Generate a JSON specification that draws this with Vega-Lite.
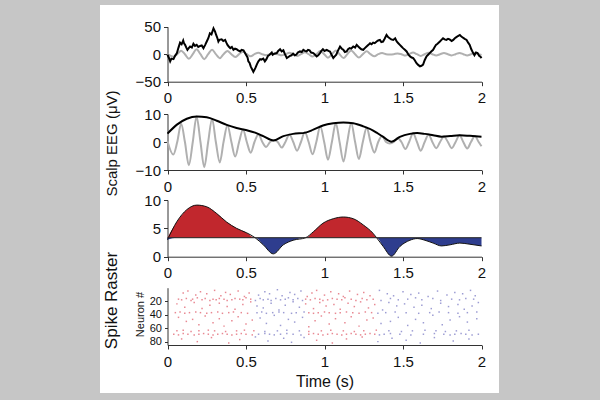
{
"$schema": "https://vega.github.io/schema/vega-lite/v6.json",
"width": 399, "height": 388,
"autosize": {"type": "none"},
"padding": {"left": 100, "top": 5, "right": 101, "bottom": 7},
"background": "#c6c6c6",
"config": {
 "font": "Liberation Sans",
 "view": {"fill": "white", "stroke": null},
 "axis": {"grid": false, "domainColor": "#333333", "tickColor": "#333333", "labelColor": "#111111", "titleColor": "#111111", "labelFont": "Liberation Sans", "titleFont": "Liberation Sans", "labelFontSize": 15, "tickSize": 4, "titleFontWeight": "normal", "labelFlush": false, "labelOverlap": false},
 "axisX": {"labelPadding": 5},
 "axisY": {"labelPadding": 3}
},
"datasets": {
 "raw": [{"t":0,"v":-1},{"t":0.008,"v":-6},{"t":0.017,"v":-13},{"t":0.025,"v":-8},{"t":0.038,"v":-9},{"t":0.048,"v":-3},{"t":0.06,"v":2},{"t":0.07,"v":12},{"t":0.08,"v":21},{"t":0.09,"v":18},{"t":0.1,"v":25},{"t":0.105,"v":20},{"t":0.112,"v":17},{"t":0.12,"v":12},{"t":0.127,"v":8},{"t":0.135,"v":11},{"t":0.144,"v":14},{"t":0.155,"v":12},{"t":0.165,"v":19},{"t":0.175,"v":15},{"t":0.186,"v":17},{"t":0.196,"v":13},{"t":0.208,"v":15},{"t":0.218,"v":16},{"t":0.229,"v":11},{"t":0.24,"v":17},{"t":0.25,"v":23},{"t":0.26,"v":29},{"t":0.27,"v":38},{"t":0.28,"v":36},{"t":0.293,"v":47},{"t":0.303,"v":41},{"t":0.31,"v":35},{"t":0.318,"v":29},{"t":0.324,"v":23},{"t":0.33,"v":26},{"t":0.345,"v":27},{"t":0.355,"v":24},{"t":0.367,"v":26},{"t":0.375,"v":21},{"t":0.382,"v":17},{"t":0.39,"v":14},{"t":0.4,"v":11},{"t":0.41,"v":13},{"t":0.42,"v":8},{"t":0.43,"v":10},{"t":0.44,"v":9},{"t":0.45,"v":7},{"t":0.463,"v":5},{"t":0.472,"v":8},{"t":0.484,"v":7},{"t":0.492,"v":3},{"t":0.5,"v":-1},{"t":0.51,"v":-6},{"t":0.515,"v":-13},{"t":0.523,"v":-16},{"t":0.53,"v":-22},{"t":0.538,"v":-27},{"t":0.547,"v":-32},{"t":0.553,"v":-29},{"t":0.56,"v":-25},{"t":0.57,"v":-18},{"t":0.579,"v":-13},{"t":0.59,"v":-9},{"t":0.598,"v":-10},{"t":0.61,"v":-8},{"t":0.62,"v":-13},{"t":0.63,"v":-9},{"t":0.64,"v":-3},{"t":0.65,"v":-1},{"t":0.664,"v":3},{"t":0.67,"v":-1},{"t":0.68,"v":1},{"t":0.696,"v":2},{"t":0.705,"v":6},{"t":0.717,"v":9},{"t":0.727,"v":5},{"t":0.738,"v":7},{"t":0.748,"v":0},{"t":0.76,"v":-7},{"t":0.77,"v":-5},{"t":0.78,"v":-3},{"t":0.79,"v":-2},{"t":0.8,"v":1},{"t":0.81,"v":-2},{"t":0.82,"v":-1},{"t":0.83,"v":3},{"t":0.844,"v":5},{"t":0.855,"v":4},{"t":0.865,"v":8},{"t":0.875,"v":6},{"t":0.886,"v":5},{"t":0.895,"v":8},{"t":0.905,"v":7},{"t":0.915,"v":3},{"t":0.929,"v":2},{"t":0.94,"v":-1},{"t":0.95,"v":-4},{"t":0.96,"v":-2},{"t":0.971,"v":2},{"t":0.98,"v":6},{"t":0.99,"v":9},{"t":1,"v":6},{"t":1.014,"v":8},{"t":1.025,"v":6},{"t":1.035,"v":5},{"t":1.045,"v":-1},{"t":1.056,"v":-7},{"t":1.065,"v":-4},{"t":1.075,"v":-1},{"t":1.085,"v":6},{"t":1.099,"v":14},{"t":1.11,"v":10},{"t":1.12,"v":8},{"t":1.13,"v":4},{"t":1.141,"v":5},{"t":1.15,"v":9},{"t":1.16,"v":11},{"t":1.17,"v":10},{"t":1.183,"v":14},{"t":1.195,"v":12},{"t":1.205,"v":17},{"t":1.215,"v":14},{"t":1.226,"v":11},{"t":1.235,"v":9},{"t":1.247,"v":8},{"t":1.257,"v":11},{"t":1.268,"v":14},{"t":1.28,"v":17},{"t":1.29,"v":20},{"t":1.3,"v":18},{"t":1.31,"v":21},{"t":1.32,"v":20},{"t":1.332,"v":23},{"t":1.342,"v":25},{"t":1.353,"v":26},{"t":1.362,"v":22},{"t":1.373,"v":23},{"t":1.383,"v":28},{"t":1.395,"v":35},{"t":1.405,"v":31},{"t":1.415,"v":29},{"t":1.425,"v":27},{"t":1.438,"v":26},{"t":1.45,"v":29},{"t":1.46,"v":23},{"t":1.47,"v":20},{"t":1.48,"v":17},{"t":1.49,"v":14},{"t":1.5,"v":11},{"t":1.512,"v":8},{"t":1.523,"v":5},{"t":1.535,"v":-1},{"t":1.545,"v":-4},{"t":1.555,"v":-6},{"t":1.565,"v":-7},{"t":1.575,"v":-11},{"t":1.585,"v":-16},{"t":1.595,"v":-19},{"t":1.608,"v":-22},{"t":1.618,"v":-21},{"t":1.628,"v":-19},{"t":1.638,"v":-11},{"t":1.65,"v":-4},{"t":1.66,"v":-1},{"t":1.67,"v":2},{"t":1.68,"v":5},{"t":1.692,"v":8},{"t":1.7,"v":12},{"t":1.71,"v":17},{"t":1.72,"v":19},{"t":1.735,"v":23},{"t":1.745,"v":26},{"t":1.755,"v":29},{"t":1.765,"v":27},{"t":1.777,"v":26},{"t":1.787,"v":28},{"t":1.797,"v":27},{"t":1.81,"v":24},{"t":1.82,"v":26},{"t":1.83,"v":29},{"t":1.84,"v":31},{"t":1.85,"v":33},{"t":1.862,"v":35},{"t":1.872,"v":32},{"t":1.882,"v":30},{"t":1.893,"v":28},{"t":1.905,"v":26},{"t":1.915,"v":21},{"t":1.925,"v":17},{"t":1.935,"v":9},{"t":1.947,"v":2},{"t":1.955,"v":-2},{"t":1.965,"v":3},{"t":1.975,"v":2},{"t":1.985,"v":-3},{"t":1.995,"v":-5},{"t":2,"v":-7}],
 "filt": [{"t":0,"v":0.3},{"t":0.037,"v":-4.5},{"t":0.062,"v":0},{"t":0.087,"v":6.5},{"t":0.111,"v":0},{"t":0.136,"v":-8.3},{"t":0.161,"v":0},{"t":0.185,"v":9.1},{"t":0.21,"v":0},{"t":0.234,"v":-9},{"t":0.259,"v":0},{"t":0.284,"v":8.3},{"t":0.308,"v":0},{"t":0.333,"v":-7.3},{"t":0.357,"v":0},{"t":0.382,"v":6},{"t":0.407,"v":0},{"t":0.431,"v":-5.2},{"t":0.456,"v":0},{"t":0.481,"v":4.5},{"t":0.505,"v":0},{"t":0.53,"v":-3.8},{"t":0.554,"v":0},{"t":0.579,"v":2.8},{"t":0.604,"v":0},{"t":0.628,"v":-1.8},{"t":0.653,"v":0},{"t":0.678,"v":0.6},{"t":0.702,"v":0},{"t":0.727,"v":-2},{"t":0.751,"v":0},{"t":0.776,"v":2.7},{"t":0.801,"v":0},{"t":0.825,"v":-3.1},{"t":0.85,"v":0},{"t":0.875,"v":3.6},{"t":0.899,"v":0},{"t":0.924,"v":-4.4},{"t":0.948,"v":0},{"t":0.973,"v":5.6},{"t":0.998,"v":0},{"t":1.022,"v":-6.3},{"t":1.047,"v":0},{"t":1.072,"v":6.8},{"t":1.096,"v":0},{"t":1.121,"v":-7},{"t":1.145,"v":0},{"t":1.17,"v":6.8},{"t":1.195,"v":0},{"t":1.219,"v":-6.1},{"t":1.244,"v":0},{"t":1.269,"v":5.2},{"t":1.293,"v":0},{"t":1.318,"v":-3.8},{"t":1.342,"v":0},{"t":1.367,"v":2.1},{"t":1.392,"v":0},{"t":1.416,"v":-0.5},{"t":1.441,"v":0},{"t":1.466,"v":1.4},{"t":1.49,"v":0},{"t":1.515,"v":-2.5},{"t":1.539,"v":0},{"t":1.564,"v":3.1},{"t":1.589,"v":0},{"t":1.613,"v":-3.1},{"t":1.638,"v":0},{"t":1.663,"v":2.7},{"t":1.687,"v":0},{"t":1.712,"v":-2.2},{"t":1.736,"v":0},{"t":1.761,"v":2},{"t":1.786,"v":0},{"t":1.81,"v":-2.2},{"t":1.835,"v":0},{"t":1.86,"v":2.4},{"t":1.884,"v":0},{"t":1.909,"v":-2.3},{"t":1.933,"v":0},{"t":1.958,"v":2.1},{"t":1.982,"v":0},{"t":2,"v":-1.5}],
 "env": [{"t":0,"v":3.0},{"t":0.06,"v":6.2},{"t":0.123,"v":8.3},{"t":0.187,"v":9.1},{"t":0.25,"v":8.8},{"t":0.314,"v":7.6},{"t":0.377,"v":6.1},{"t":0.44,"v":5.0},{"t":0.505,"v":4.2},{"t":0.558,"v":3.35},{"t":0.61,"v":2.1},{"t":0.674,"v":0.5},{"t":0.738,"v":2.1},{"t":0.8,"v":2.9},{"t":0.88,"v":3.35},{"t":0.929,"v":4.4},{"t":0.99,"v":5.9},{"t":1.056,"v":6.7},{"t":1.12,"v":7.0},{"t":1.183,"v":6.7},{"t":1.247,"v":5.6},{"t":1.31,"v":4.1},{"t":1.332,"v":3.35},{"t":1.374,"v":1.8},{"t":1.427,"v":0.1},{"t":1.48,"v":1.8},{"t":1.544,"v":2.9},{"t":1.59,"v":3.2},{"t":1.64,"v":2.9},{"t":1.692,"v":2.4},{"t":1.745,"v":1.9},{"t":1.8,"v":2.1},{"t":1.862,"v":2.4},{"t":1.926,"v":2.2},{"t":2,"v":1.9}],
 "spikes": [
{"t":0.07,"n":17},{"t":0.09,"n":18},{"t":0.12,"n":16},{"t":0.15,"n":19},{"t":0.16,"n":17},{"t":0.19,"n":15},{"t":0.22,"n":18},{"t":0.24,"n":16},{"t":0.27,"n":19},{"t":0.29,"n":17},{"t":0.31,"n":18},{"t":0.33,"n":16},{"t":0.36,"n":17},{"t":0.38,"n":19},{"t":0.41,"n":18},{"t":0.43,"n":16},{"t":0.46,"n":17},{"t":0.48,"n":18},{"t":0.5,"n":15},{"t":0.53,"n":17},{"t":0.56,"n":19},{"t":0.59,"n":16},{"t":0.61,"n":18},{"t":0.64,"n":17},{"t":0.66,"n":19},{"t":0.69,"n":16},{"t":0.72,"n":18},{"t":0.75,"n":17},{"t":0.77,"n":15},{"t":0.8,"n":18},{"t":0.83,"n":16},{"t":0.86,"n":19},{"t":0.88,"n":17},{"t":0.91,"n":18},{"t":0.94,"n":16},{"t":0.97,"n":17},{"t":0.99,"n":19},{"t":1.02,"n":18},{"t":1.05,"n":16},{"t":1.08,"n":17},{"t":1.11,"n":18},{"t":1.13,"n":15},{"t":1.17,"n":17},{"t":1.2,"n":19},{"t":1.24,"n":16},{"t":1.27,"n":18},{"t":1.31,"n":17},{"t":1.36,"n":19},{"t":1.42,"n":16},{"t":1.47,"n":18},{"t":1.53,"n":17},{"t":1.58,"n":15},{"t":1.62,"n":18},{"t":1.69,"n":16},{"t":1.74,"n":19},{"t":1.81,"n":17},{"t":1.86,"n":18},{"t":1.9,"n":16},{"t":1.95,"n":17},
{"t":0.05,"n":37},{"t":0.08,"n":36},{"t":0.11,"n":38},{"t":0.14,"n":37},{"t":0.18,"n":36},{"t":0.21,"n":37},{"t":0.25,"n":38},{"t":0.28,"n":37},{"t":0.32,"n":36},{"t":0.35,"n":38},{"t":0.39,"n":37},{"t":0.42,"n":36},{"t":0.47,"n":37},{"t":0.51,"n":38},{"t":0.57,"n":37},{"t":0.6,"n":36},{"t":0.63,"n":38},{"t":0.67,"n":37},{"t":0.71,"n":36},{"t":0.74,"n":37},{"t":0.79,"n":38},{"t":0.82,"n":37},{"t":0.87,"n":36},{"t":0.9,"n":37},{"t":0.93,"n":38},{"t":0.96,"n":37},{"t":1.0,"n":36},{"t":1.03,"n":37},{"t":1.07,"n":38},{"t":1.1,"n":37},{"t":1.14,"n":36},{"t":1.18,"n":37},{"t":1.22,"n":38},{"t":1.26,"n":36},{"t":1.3,"n":37},{"t":1.34,"n":38},{"t":1.39,"n":37},{"t":1.45,"n":36},{"t":1.52,"n":37},{"t":1.6,"n":38},{"t":1.67,"n":37},{"t":1.73,"n":36},{"t":1.79,"n":37},{"t":1.85,"n":38},{"t":1.91,"n":37},{"t":1.97,"n":36},
{"t":0.06,"n":64},{"t":0.1,"n":63},{"t":0.15,"n":65},{"t":0.2,"n":64},{"t":0.26,"n":63},{"t":0.3,"n":64},{"t":0.37,"n":65},{"t":0.44,"n":64},{"t":0.49,"n":63},{"t":0.55,"n":64},{"t":0.62,"n":65},{"t":0.7,"n":64},{"t":0.76,"n":63},{"t":0.84,"n":64},{"t":0.9,"n":65},{"t":0.98,"n":64},{"t":1.04,"n":63},{"t":1.12,"n":64},{"t":1.19,"n":65},{"t":1.25,"n":64},{"t":1.33,"n":63},{"t":1.41,"n":64},{"t":1.49,"n":65},{"t":1.56,"n":64},{"t":1.64,"n":63},{"t":1.71,"n":64},{"t":1.77,"n":65},{"t":1.84,"n":64},{"t":1.92,"n":63},
{"t":0.04,"n":69},{"t":0.07,"n":70},{"t":0.1,"n":68},{"t":0.13,"n":69},{"t":0.17,"n":70},{"t":0.2,"n":69},{"t":0.23,"n":68},{"t":0.26,"n":69},{"t":0.29,"n":70},{"t":0.32,"n":69},{"t":0.35,"n":68},{"t":0.38,"n":69},{"t":0.41,"n":70},{"t":0.44,"n":69},{"t":0.47,"n":68},{"t":0.5,"n":69},{"t":0.54,"n":70},{"t":0.58,"n":69},{"t":0.62,"n":68},{"t":0.65,"n":69},{"t":0.68,"n":70},{"t":0.72,"n":69},{"t":0.76,"n":68},{"t":0.8,"n":69},{"t":0.85,"n":70},{"t":0.9,"n":69},{"t":0.93,"n":68},{"t":0.96,"n":69},{"t":0.99,"n":70},{"t":1.02,"n":69},{"t":1.05,"n":68},{"t":1.08,"n":69},{"t":1.11,"n":70},{"t":1.14,"n":69},{"t":1.17,"n":68},{"t":1.2,"n":69},{"t":1.23,"n":70},{"t":1.26,"n":69},{"t":1.29,"n":68},{"t":1.32,"n":69},{"t":1.35,"n":70},{"t":1.38,"n":69},{"t":1.42,"n":68},{"t":1.48,"n":69},{"t":1.55,"n":70},{"t":1.63,"n":69},{"t":1.7,"n":68},{"t":1.76,"n":69},{"t":1.8,"n":70},{"t":1.83,"n":69},{"t":1.87,"n":68},{"t":1.9,"n":69},{"t":1.94,"n":70},{"t":1.98,"n":69},
{"t":0.1,"n":8},{"t":0.13,"n":5},{"t":0.18,"n":11},{"t":0.21,"n":6},{"t":0.25,"n":9},{"t":0.3,"n":4},{"t":0.34,"n":12},{"t":0.37,"n":7},{"t":0.4,"n":10},{"t":0.45,"n":5},{"t":0.49,"n":13},{"t":0.52,"n":8},{"t":0.58,"n":11},{"t":0.62,"n":6},{"t":0.65,"n":9},{"t":0.7,"n":3},{"t":0.73,"n":12},{"t":0.78,"n":7},{"t":0.81,"n":10},{"t":0.85,"n":5},{"t":0.89,"n":13},{"t":0.92,"n":8},{"t":0.95,"n":4},{"t":1.0,"n":11},{"t":1.04,"n":6},{"t":1.09,"n":9},{"t":1.12,"n":13},{"t":1.16,"n":5},{"t":1.21,"n":10},{"t":1.25,"n":7},{"t":1.29,"n":12},{"t":1.35,"n":4},{"t":1.4,"n":9},{"t":1.44,"n":12},{"t":1.5,"n":6},{"t":1.55,"n":10},{"t":1.6,"n":8},{"t":1.66,"n":13},{"t":1.72,"n":5},{"t":1.78,"n":11},{"t":1.83,"n":7},{"t":1.88,"n":9},{"t":1.93,"n":4},{"t":1.96,"n":12},
{"t":0.06,"n":24},{"t":0.11,"n":29},{"t":0.17,"n":22},{"t":0.22,"n":31},{"t":0.27,"n":26},{"t":0.33,"n":23},{"t":0.38,"n":28},{"t":0.43,"n":32},{"t":0.48,"n":25},{"t":0.53,"n":21},{"t":0.57,"n":27},{"t":0.61,"n":30},{"t":0.66,"n":23},{"t":0.71,"n":33},{"t":0.75,"n":26},{"t":0.8,"n":21},{"t":0.84,"n":29},{"t":0.88,"n":24},{"t":0.93,"n":31},{"t":0.97,"n":22},{"t":1.01,"n":27},{"t":1.06,"n":25},{"t":1.1,"n":32},{"t":1.15,"n":23},{"t":1.19,"n":28},{"t":1.23,"n":21},{"t":1.28,"n":30},{"t":1.32,"n":25},{"t":1.37,"n":33},{"t":1.41,"n":22},{"t":1.46,"n":27},{"t":1.51,"n":24},{"t":1.57,"n":29},{"t":1.62,"n":26},{"t":1.68,"n":31},{"t":1.74,"n":23},{"t":1.79,"n":28},{"t":1.85,"n":25},{"t":1.89,"n":32},{"t":1.94,"n":27},{"t":1.98,"n":22},
{"t":0.07,"n":44},{"t":0.12,"n":50},{"t":0.16,"n":47},{"t":0.2,"n":55},{"t":0.24,"n":42},{"t":0.29,"n":52},{"t":0.33,"n":46},{"t":0.36,"n":57},{"t":0.41,"n":49},{"t":0.45,"n":43},{"t":0.5,"n":54},{"t":0.54,"n":48},{"t":0.59,"n":45},{"t":0.63,"n":53},{"t":0.68,"n":41},{"t":0.72,"n":56},{"t":0.77,"n":47},{"t":0.81,"n":51},{"t":0.86,"n":44},{"t":0.9,"n":58},{"t":0.94,"n":49},{"t":0.98,"n":42},{"t":1.03,"n":54},{"t":1.07,"n":46},{"t":1.13,"n":52},{"t":1.17,"n":43},{"t":1.22,"n":57},{"t":1.27,"n":48},{"t":1.31,"n":45},{"t":1.36,"n":53},{"t":1.42,"n":50},{"t":1.47,"n":44},{"t":1.53,"n":56},{"t":1.58,"n":47},{"t":1.63,"n":52},{"t":1.69,"n":41},{"t":1.75,"n":55},{"t":1.8,"n":48},{"t":1.86,"n":43},{"t":1.91,"n":51},{"t":1.97,"n":46},
{"t":0.09,"n":76},{"t":0.19,"n":80},{"t":0.28,"n":74},{"t":0.39,"n":82},{"t":0.46,"n":77},{"t":0.56,"n":73},{"t":0.64,"n":79},{"t":0.74,"n":75},{"t":0.79,"n":81},{"t":0.87,"n":74},{"t":0.95,"n":78},{"t":1.05,"n":82},{"t":1.14,"n":76},{"t":1.24,"n":73},{"t":1.34,"n":80},{"t":1.43,"n":75},{"t":1.52,"n":78},{"t":1.61,"n":82},{"t":1.7,"n":74},{"t":1.82,"n":79},{"t":1.92,"n":76}
 ]
},
"resolve": {"scale": {"x": "independent", "y": "independent"}, "axis": {"x": "independent", "y": "independent"}},
"layer": [
 {"data": {"name": "filt"},
  "mark": {"type": "line", "color": "#b0b0b0", "strokeWidth": 2, "interpolate": "monotone"},
  "encoding": {
   "x": {"field": "t", "type": "quantitative", "scale": {"domain": [0, 2], "range": [67.5, 381.5], "nice": false, "zero": false},
         "axis": {"orient": "bottom", "offset": -311.3, "values": [0, 0.5, 1, 1.5, 2], "format": "~g", "title": null}},
   "y": {"field": "v", "type": "quantitative", "scale": {"domain": [-50, 50], "range": [76.7, 21.7], "nice": false, "zero": false},
         "axis": {"orient": "left", "offset": -67.5, "values": [-50, 0, 50], "title": null}}
  }},
 {"data": {"name": "raw"},
  "mark": {"type": "line", "color": "#000000", "strokeWidth": 2},
  "encoding": {
   "x": {"field": "t", "type": "quantitative", "scale": {"domain": [0, 2], "range": [67.5, 381.5], "nice": false, "zero": false}, "axis": null},
   "y": {"field": "v", "type": "quantitative", "scale": {"domain": [-50, 50], "range": [76.7, 21.7], "nice": false, "zero": false}, "axis": null}
  }},
 {"data": {"name": "filt"},
  "mark": {"type": "line", "color": "#b0b0b0", "strokeWidth": 2, "interpolate": "monotone"},
  "encoding": {
   "x": {"field": "t", "type": "quantitative", "scale": {"domain": [0, 2], "range": [67.5, 381.5], "nice": false, "zero": false},
         "axis": {"orient": "bottom", "offset": -223, "values": [0, 0.5, 1, 1.5, 2], "format": "~g", "title": null}},
   "y": {"field": "v", "type": "quantitative", "scale": {"domain": [-10, 10], "range": [165, 109], "nice": false, "zero": false},
         "axis": {"orient": "left", "offset": -67.5, "values": [-10, 0, 10], "title": "Scalp EEG (μV)", "titleFontSize": 15, "titleX": -56, "titleY": 138, "titleBaseline": "middle", "titleAngle": 270}}
  }},
 {"data": {"name": "env"},
  "mark": {"type": "line", "color": "#000000", "strokeWidth": 2, "interpolate": "monotone"},
  "encoding": {
   "x": {"field": "t", "type": "quantitative", "scale": {"domain": [0, 2], "range": [67.5, 381.5], "nice": false, "zero": false}, "axis": null},
   "y": {"field": "v", "type": "quantitative", "scale": {"domain": [-10, 10], "range": [165, 109], "nice": false, "zero": false}, "axis": null}
  }},
 {"data": {"name": "env"},
  "mark": {"type": "area", "color": "#c1272d", "interpolate": "monotone"},
  "encoding": {
   "x": {"field": "t", "type": "quantitative", "scale": {"domain": [0, 2], "range": [67.5, 381.5], "nice": false, "zero": false}, "axis": null},
   "y": {"field": "v", "type": "quantitative", "scale": {"domain": [3.35, 10], "range": [232.7, 195], "nice": false, "zero": false, "clamp": true}, "axis": null},
   "y2": {"datum": 3.35}
  }},
 {"data": {"name": "env"},
  "mark": {"type": "area", "color": "#2e3d8e", "interpolate": "monotone"},
  "encoding": {
   "x": {"field": "t", "type": "quantitative", "scale": {"domain": [0, 2], "range": [67.5, 381.5], "nice": false, "zero": false}, "axis": null},
   "y": {"field": "v", "type": "quantitative", "scale": {"domain": [0, 3.35], "range": [251.7, 232.7], "nice": false, "zero": false, "clamp": true}, "axis": null},
   "y2": {"datum": 3.35}
  }},
 {"data": {"name": "env"},
  "mark": {"type": "line", "color": "#111111", "strokeWidth": 1, "interpolate": "monotone"},
  "encoding": {
   "x": {"field": "t", "type": "quantitative", "scale": {"domain": [0, 2], "range": [67.5, 381.5], "nice": false, "zero": false},
         "axis": {"orient": "bottom", "offset": -136.3, "values": [0, 0.5, 1, 1.5, 2], "format": "~g", "title": null}},
   "y": {"field": "v", "type": "quantitative", "scale": {"domain": [0, 10], "range": [251.7, 195], "nice": false, "zero": false},
         "axis": {"orient": "left", "offset": -67.5, "values": [0, 5, 10], "title": "Spike Raster", "titleFontSize": 17, "titleX": -56, "titleY": 295, "titleBaseline": "middle", "titleAngle": 270}}
  }},
 {"data": {"values": [{}]},
  "mark": {"type": "rule", "color": "#222222", "strokeWidth": 1},
  "encoding": {
   "x": {"datum": 0, "type": "quantitative", "scale": {"domain": [0, 2], "range": [67.5, 381.5], "nice": false, "zero": false}, "axis": null},
   "x2": {"datum": 2},
   "y": {"datum": 3.35, "type": "quantitative", "scale": {"domain": [0, 10], "range": [251.7, 195], "nice": false, "zero": false}, "axis": null}
  }},
 {"data": {"name": "spikes"},
  "mark": {"type": "point", "shape": "square", "filled": true, "size": 2.2, "opacity": 0.75},
  "encoding": {
   "x": {"field": "t", "type": "quantitative", "scale": {"domain": [0, 2], "range": [67.5, 381.5], "nice": false, "zero": false},
         "axis": {"orient": "bottom", "offset": -48, "values": [0, 0.5, 1, 1.5, 2], "format": "~g", "title": "Time (s)", "titleFontSize": 16, "titlePadding": 4}},
   "y": {"field": "n", "type": "quantitative", "scale": {"domain": [0, 85], "range": [282.7, 340], "nice": false, "zero": false},
         "axis": {"orient": "left", "offset": -67.5, "values": [20, 40, 60, 80], "labelFontSize": 11, "tickSize": 3, "title": "Neuron #", "titleFontSize": 11, "titleX": -27.5, "titleY": 309, "titleBaseline": "middle", "titleAngle": 270}},
   "color": {"field": "t", "type": "quantitative", "scale": {"type": "threshold", "domain": [0.555, 0.88, 1.332], "range": ["#e0606e", "#7b7bc4", "#e0606e", "#7b7bc4"]}, "legend": null}
  }}
]
}
